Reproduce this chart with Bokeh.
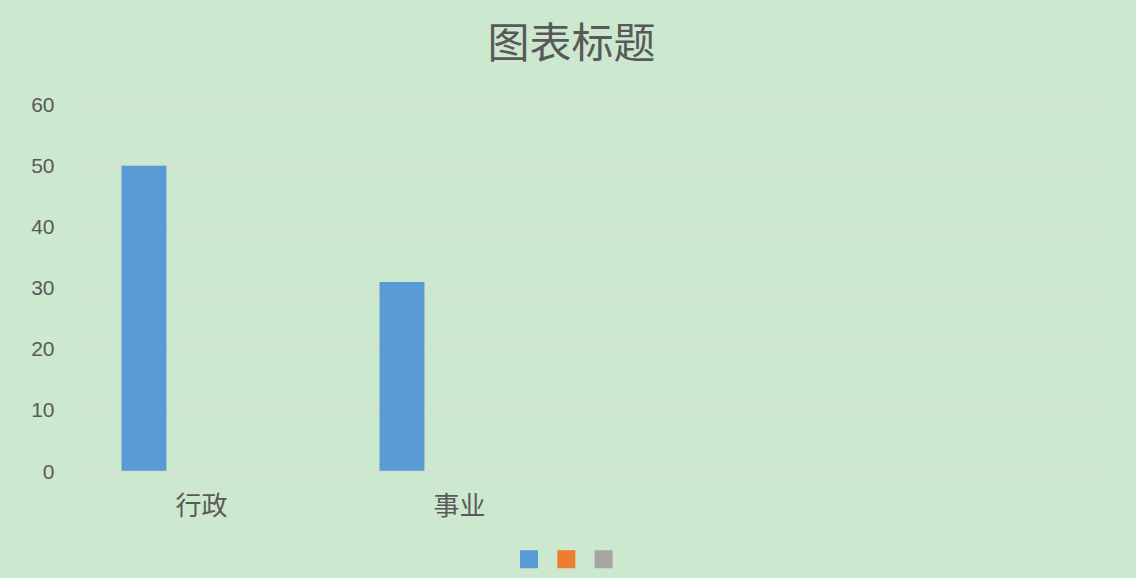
from bokeh.plotting import figure
from bokeh.models import (ColumnDataSource, FactorRange, Range1d, FixedTicker, Label)
from bokeh.layouts import column
from bokeh.transform import dodge
from bokeh.embed import file_html
from bokeh.resources import INLINE

categories = ["行政", "事业", " ", "  "]
series_names = ["系列1", "系列2", "系列3"]
series1 = [50, 31, 0, 0]
series2 = [0, 0, 0, 0]
series3 = [0, 0, 0, 0]
series_colors = ["#5b9bd5", "#ed7d31", "#a5a5a5"]
y_ticks = [0, 10, 20, 30, 40, 50, 60]
title_text = "图表标题"

BG = "#cce8cf"
TXT = "#595959"
CJK = "Noto Sans CJK SC"
W = 1136


def strip(h, xr=(0, 1)):
    f = figure(width=W, height=h, output_backend="svg", toolbar_location=None,
               x_axis_type=None, y_axis_type=None,
               x_range=Range1d(*xr), y_range=Range1d(0, 1))
    f.background_fill_color = None
    f.border_fill_color = BG
    f.outline_line_color = None
    f.xgrid.grid_line_color = None
    f.ygrid.grid_line_color = None
    f.min_border = 0
    return f


# title strip
ts = strip(92)
ts.add_layout(Label(x=499, y=53, x_units="screen", y_units="screen", text=title_text,
                    text_font=CJK, text_font_size="42px", text_color=TXT,
                    text_align="center", text_baseline="middle"))

src = ColumnDataSource(dict(cat=categories, s1=series1, s2=series2, s3=series3))

p = figure(width=W, height=438, output_backend="svg", toolbar_location=None,
           x_range=FactorRange(*categories, range_padding=0, factor_padding=0),
           y_range=Range1d(0, 60.33))
p.background_fill_color = None
p.border_fill_color = BG
p.outline_line_color = None
p.min_border_left = 72
p.min_border_right = 32
p.min_border_top = 10
p.min_border_bottom = 59

bw = 0.174
for key, off, col in zip(["s1", "s2", "s3"], [-0.223, 0.0, 0.223], series_colors):
    p.vbar(x=dodge("cat", off, range=p.x_range), top=key, width=bw,
           source=src, fill_color=col, line_color=None)

p.xgrid.grid_line_color = None
p.ygrid.grid_line_color = "#d6dbd6"
p.ygrid.grid_line_width = 1.5
p.yaxis.ticker = FixedTicker(ticks=y_ticks)
p.yaxis.axis_line_color = None
p.yaxis.major_tick_line_color = None
p.yaxis.minor_tick_line_color = None
p.yaxis.major_tick_out = 0
p.yaxis.major_label_text_font = "Liberation Sans"
p.yaxis.major_label_text_font_size = "21px"
p.yaxis.major_label_text_color = TXT
p.yaxis.major_label_standoff = 18

p.xaxis.axis_line_color = "#d6dbd6"
p.xaxis.axis_line_width = 1.5
p.xaxis.major_tick_line_color = None
p.xaxis.minor_tick_line_color = None
p.xaxis.major_tick_out = 0
p.xaxis.major_label_text_font = CJK
p.xaxis.major_label_text_font_size = "26px"
p.xaxis.major_label_text_color = TXT
p.xaxis.major_label_standoff = 13

# legend strip: one swatch per (unnamed) series, placed by series index
lg = strip(48, xr=(-12.24, 15.43))
lsrc = ColumnDataSource(dict(idx=list(range(len(series_names))), name=series_names,
                             color=series_colors, y=[0.4] * len(series_names)))
lg.scatter(x="idx", y="y", source=lsrc, marker="square", size=18,
           fill_color="color", line_color=None)

layout = column(ts, p, lg, spacing=0, styles={"background-color": BG})
open("out.html", "w").write(file_html(layout, INLINE))
